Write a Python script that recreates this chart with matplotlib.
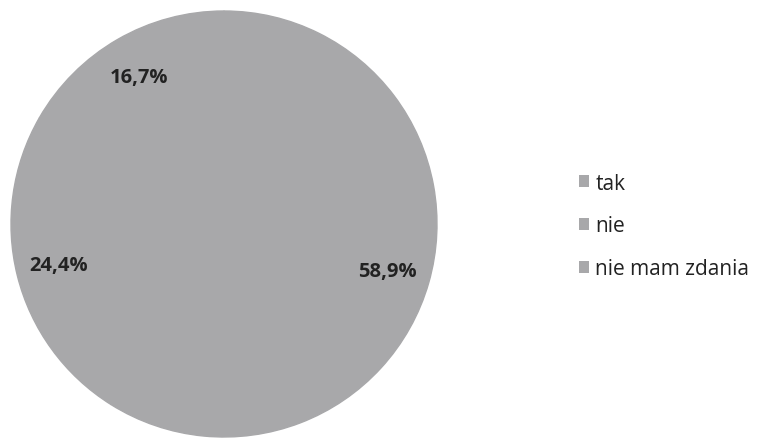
import numpy as np
import matplotlib.pyplot as plt
from matplotlib.patches import Patch

labels = ['tak', 'nie', 'nie mam zdania']
values = [58.9, 24.4, 16.7]
pct_text = ['58,9%', '24,4%', '16,7%']
colors = ['#a8a8aa', '#a8a8aa', '#a8a8aa']

plt.rcParams['font.family'] = ['Open Sans', 'DejaVu Sans']

fig = plt.figure(figsize=(7.83, 4.39), dpi=100)
ax = fig.add_axes([11 / 783, 1 / 439, 426 / 783, 426 / 439])

wedges, _ = ax.pie(values, colors=colors, startangle=90, counterclock=False,
                   radius=1.0, wedgeprops={'linewidth': 1.0, 'edgecolor': '#a8a8aa'})
ax.set_xlim(-1, 1)
ax.set_ylim(-1, 1)
ax.set_aspect('equal')

start = 90.0
for v, txt in zip(values, pct_text):
    ang = np.deg2rad(start - v * 3.6 / 2)
    ax.text(0.8 * np.cos(ang), 0.8 * np.sin(ang), txt, ha='center', va='center',
            fontsize=14.5, fontweight='bold', color='#222222')
    start -= v * 3.6

handles = [Patch(facecolor=c, edgecolor='none') for c in colors]
fig.legend(handles, labels, loc='center left', bbox_to_anchor=(560 / 783, 1 - 227 / 439),
           frameon=False, fontsize=15, handlelength=0.5, handleheight=0.5,
           handletextpad=0.3, labelspacing=1.05, labelcolor='#222222')

fig.savefig('out.png', dpi=100, facecolor='white')
